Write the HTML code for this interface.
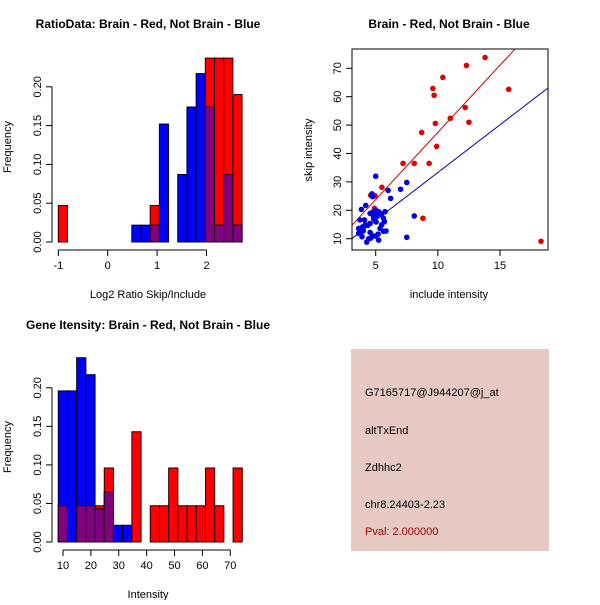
<!DOCTYPE html>
<html><head><meta charset="utf-8"><style>
html,body{margin:0;padding:0;background:#fff;}
svg text{font-family:"Liberation Sans",sans-serif;}
</style></head><body>
<svg id="chart" width="600" height="600" viewBox="0 0 600 600" xmlns="http://www.w3.org/2000/svg">
<rect x="0" y="0" width="600" height="600" fill="#fff"/>
<g id="p1"></g>
<g id="p2"></g>
<g id="p3"></g>
<g>
<rect x="351" y="349" width="198" height="202" fill="#e6c9c2"/>
<text x="365" y="396" font-size="11" fill="#000">G7165717@J944207@j_at</text>
<text x="365" y="434" font-size="11" fill="#000">altTxEnd</text>
<text x="365" y="471" font-size="11" fill="#000">Zdhhc2</text>
<text x="365" y="508" font-size="11" fill="#000">chr8.24403-2.23</text>
<text x="365" y="535" font-size="11" fill="#a00000">Pval: 2.000000</text>
</g>
</svg>
<script>
// ---- Ratio histogram data ----
const ratioBinStart = -1;
const ratioBinWidth = 0.186;
const ratioRed  = [0.047,0,0,0,0,0,0,0,0,0,0.047,0,0,0,0,0,0.237,0.237,0.237,0.19];
const ratioBlue = [0,0,0,0,0,0,0,0,0.0217,0.0217,0.0217,0.152,0,0.087,0.174,0.217,0.174,0.0217,0.087,0.0217];
const ratioXTicks = [-1,0,1,2];
const freqTicks = [0,0.05,0.10,0.15,0.20];
const freqTickLabels = ["0.00","0.05","0.10","0.15","0.20"];

// ---- Gene intensity histogram data ----
const intBinStart = 8.3;
const intBinWidth = 3.3;
const intRed  = [0.047,0,0.047,0.047,0.047,0.096,0,0,0.143,0,0.047,0.047,0.096,0.047,0.047,0.047,0.096,0.047,0,0.096];
const intBlue = [0.196,0.196,0.239,0.217,0.043,0.065,0.0217,0.0217,0,0,0,0,0,0,0,0,0,0,0,0];
const intXTicks = [10,20,30,40,50,60,70];

// ---- Scatter data ----
const redX = [13.8,12.3,10.4,9.6,9.7,15.7,12.2,11.0,9.8,12.5,8.7,9.9,7.2,8.1,9.3,5.5,4.6,4.95,4.9,8.8,18.3];
const redY = [73.8,71.0,66.8,62.9,60.5,62.6,56.2,52.4,50.6,51.0,47.4,42.5,36.5,36.5,36.5,28.1,25.3,25.1,20.7,17.2,9.1];
const blueX = [5.0,7.5,7.0,6.0,6.2,4.7,4.75,4.2,3.85,8.1,7.5,5.75,4.55,4.76,5.03,5.24,5.48,5.08,4.81,5.62,5.7,5.03,4.55,4.17,3.96,3.74,4.1,4.36,5.48,5.62,5.83,5.19,4.55,4.76,4.44,4.28,5.24,3.9,3.63,3.63,4.0,3.8,4.6,5.0,5.35,4.84];
const blueY = [32,29.8,27.4,27.0,24.2,25.8,24.8,21.7,20.3,18,10.5,19.5,18.9,19.3,19.9,19.5,18.7,18,18.1,17.2,16,15.9,15.4,14.9,14.2,16.6,16.6,14.7,14.9,12.6,12.7,11.6,12.2,11,10,8.8,9.5,10.7,13.6,11.9,12.8,12.1,10.2,10.9,13.6,17];
const redFitSlope = 4.73, redFitIntercept = 0.13;
const blueFitSlope = 3.36, blueFitIntercept = -0.3;
const scatXTicks = [5,10,15];
const scatYTicks = [10,20,30,40,50,60,70];

const NS = "http://www.w3.org/2000/svg";
function mk(parent, tag, attrs, text){
  const e = document.createElementNS(NS, tag);
  for (const k in attrs) e.setAttribute(k, attrs[k]);
  if (text !== undefined) e.textContent = text;
  parent.appendChild(e);
  return e;
}

function histogram(g, opt){
  const sx = v => opt.x0px + (v - opt.x0) * opt.xs;
  const sy = v => opt.y0px - v * opt.ys;
  const n = opt.red.length;
  for (let i=0;i<n;i++){
    const a = opt.binStart + i*opt.binWidth, b = a + opt.binWidth;
    const r = opt.red[i], bl = opt.blue[i];
    const x = sx(a), w = sx(b) - sx(a);
    if (r > 0){
      const e = mk(g,'rect',{x:x,y:sy(r),width:w,height:sy(0)-sy(r),fill:'#ff0000',stroke:'#200000','stroke-width':1});
      
      
    }
    if (bl > 0){
      const e = mk(g,'rect',{x:x,y:sy(bl),width:w,height:sy(0)-sy(bl),fill:'#0000ff',stroke:'#000020','stroke-width':1});
      
      
    }
    const m = Math.min(r, bl);
    if (m > 0){
      const e = mk(g,'rect',{x:x,y:sy(m),width:w,height:sy(0)-sy(m),fill:'#800080',stroke:'#200020','stroke-width':1});
      
      
    }
  }
  // x axis
  const xa = mk(g,'g',{});
  
  
  const xt = opt.xTicks;
  mk(xa,'line',{x1:sx(xt[0]),x2:sx(xt[xt.length-1]),y1:opt.axisY,y2:opt.axisY,stroke:'#000'});
  xt.forEach(t=>{
    mk(xa,'line',{x1:sx(t),x2:sx(t),y1:opt.axisY,y2:opt.axisY+6,stroke:'#000'});
    const tl = mk(xa,'text',{x:sx(t),y:opt.axisY+19,'font-size':11,'text-anchor':'middle'}, String(t));
    
    
  });
  // y axis
  const ya = mk(g,'g',{});
  
  
  mk(ya,'line',{x1:opt.axisX,x2:opt.axisX,y1:sy(freqTicks[0]),y2:sy(freqTicks[freqTicks.length-1]),stroke:'#000'});
  freqTicks.forEach((t,i)=>{
    mk(ya,'line',{x1:opt.axisX-6,x2:opt.axisX,y1:sy(t),y2:sy(t),stroke:'#000'});
    const tl = mk(ya,'text',{x:0,y:0,'font-size':11,'text-anchor':'middle',transform:`translate(${opt.axisX-11},${sy(t)}) rotate(-90)`}, freqTickLabels[i]);
    
    
  });
  const yt = mk(g,'text',{x:0,y:0,'font-size':11,'text-anchor':'middle',transform:`translate(11,${opt.yTitleY}) rotate(-90)`},'Frequency');
  
  
  const xtt = mk(g,'text',{x:148,y:opt.xTitleY,'font-size':11,'text-anchor':'middle'},opt.xTitle);
  
  
  const tt = mk(g,'text',{x:148,y:opt.titleY,'font-size':12,'font-weight':'bold','text-anchor':'middle'},opt.title);
  
  
}

histogram(document.getElementById('p1'), {
  red: ratioRed, blue: ratioBlue, binStart: ratioBinStart, binWidth: ratioBinWidth,
  x0:-1, x0px:58.3, xs:49.4, y0px:242, ys:776,
  xTicks: ratioXTicks, axisY:250, axisX:52, yTitleY:147, xTitleY:298, titleY:28,
  xTitle:'Log2 Ratio Skip/Include', title:'RatioData: Brain - Red, Not Brain - Blue'
});
histogram(document.getElementById('p3'), {
  red: intRed, blue: intBlue, binStart: intBinStart, binWidth: intBinWidth,
  x0:10, x0px:63, xs:2.788, y0px:542, ys:771,
  xTicks: intXTicks, axisY:550, axisX:52, yTitleY:447, xTitleY:598, titleY:329,
  xTitle:'Intensity', title:'Gene Itensity: Brain - Red, Not Brain - Blue'
});

// scatter
(function(){
  const g = document.getElementById('p2');
  const L=352, R=548, T=49, B=250;
  const sx = v => 375.7 + (v-5)*12.43;
  const sy = v => 238.7 - (v-10)*2.84;
  const clip = mk(g,'clipPath',{id:'sc'});
  mk(clip,'rect',{x:L,y:T,width:R-L,height:B-T});
  const xmin = (L-375.7)/12.43+5, xmax=(R-375.7)/12.43+5;
  const rl = mk(g,'line',{x1:sx(xmin),y1:sy(redFitIntercept+redFitSlope*xmin),x2:sx(xmax),y2:sy(redFitIntercept+redFitSlope*xmax),stroke:'#cc0000','clip-path':'url(#sc)'});
  
  
  const bl = mk(g,'line',{x1:sx(xmin),y1:sy(blueFitIntercept+blueFitSlope*xmin),x2:sx(xmax),y2:sy(blueFitIntercept+blueFitSlope*xmax),stroke:'#000099','clip-path':'url(#sc)'});
  
  
  redX.forEach((x,i)=>{
    const c = mk(g,'circle',{cx:sx(x),cy:sy(redY[i]),r:2.8,fill:'#e00000'});
    
    
  });
  blueX.forEach((x,i)=>{
    const c = mk(g,'circle',{cx:sx(x),cy:sy(blueY[i]),r:2.8,fill:'#0000e0'});
    
    
  });
  const box = mk(g,'rect',{x:L,y:T,width:R-L,height:B-T,fill:'none',stroke:'#000'});
  
  
  scatXTicks.forEach(t=>{
    mk(g,'line',{x1:sx(t),x2:sx(t),y1:B,y2:B+6,stroke:'#000'});
    const tl = mk(g,'text',{x:sx(t),y:B+19,'font-size':11,'text-anchor':'middle'},String(t));
    
    
  });
  scatYTicks.forEach(t=>{
    mk(g,'line',{x1:L-6,x2:L,y1:sy(t),y2:sy(t),stroke:'#000'});
    const tl = mk(g,'text',{x:0,y:0,'font-size':11,'text-anchor':'middle',transform:`translate(${L-11},${sy(t)}) rotate(-90)`},String(t));
    
    
  });
  const xt = mk(g,'text',{x:449,y:298,'font-size':11,'text-anchor':'middle'},'include intensity');
  
  
  const yt = mk(g,'text',{x:0,y:0,'font-size':11,'text-anchor':'middle',transform:'translate(312,150) rotate(-90)'},'skip intensity');
  
  
  const tt = mk(g,'text',{x:449,y:28,'font-size':12,'font-weight':'bold','text-anchor':'middle'},'Brain - Red, Not Brain - Blue');
  
  
})();
</script>
</body></html>
